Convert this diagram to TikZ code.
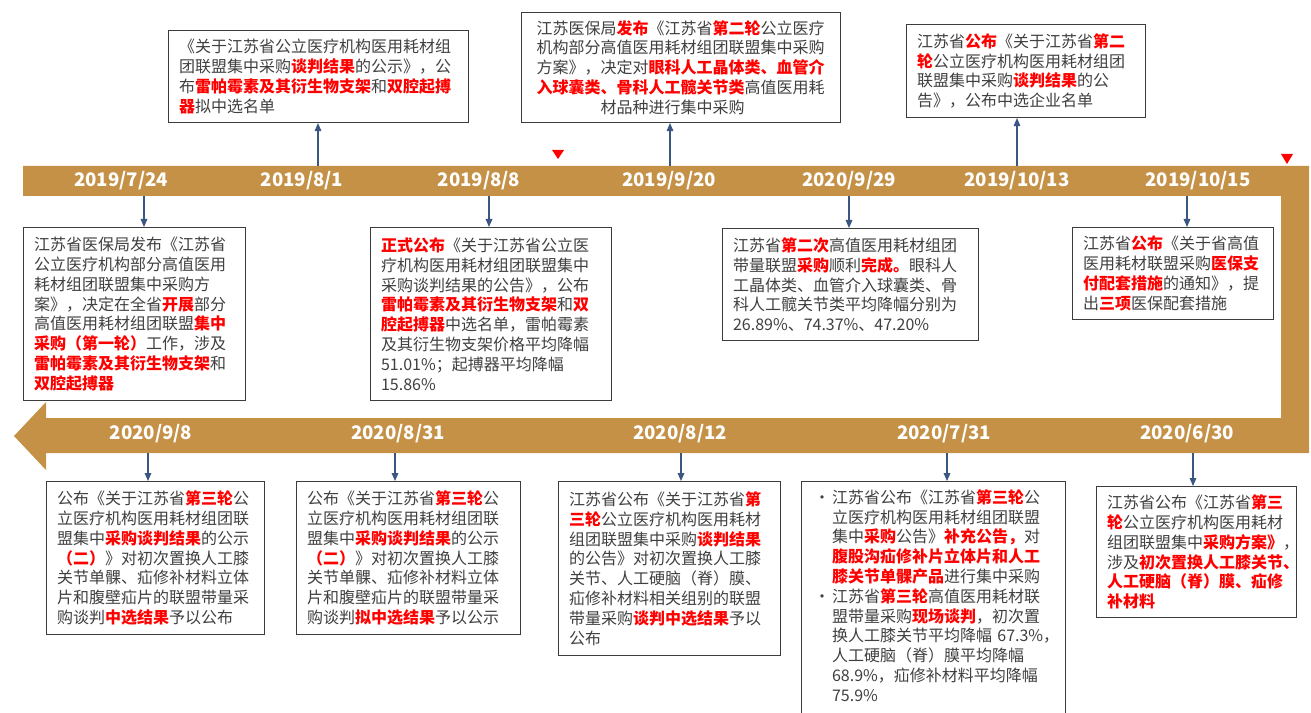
\documentclass[tikz,border=0pt]{standalone}
\usepackage{fontspec}
\setmainfont{Noto Sans CJK SC}
\usetikzlibrary{arrows.meta}
\definecolor{bandgold}{HTML}{C49146}
\definecolor{txtgray}{HTML}{404040}
\definecolor{boxgray}{HTML}{3C3C3C}
\definecolor{linknavy}{HTML}{3A5683}
\definecolor{keyred}{HTML}{FF0000}
\newcommand{\keyw}[1]{\textcolor{keyred}{\bfseries #1}}
\newcommand{\bul}{\makebox[15pt][l]{\hspace{1.5pt}•}}
\newcommand{\ind}{\hspace*{15pt}}
\begin{document}
\begin{tikzpicture}[x=0.75pt,y=-0.75pt,
    evbox/.style={draw=boxgray,line width=0.8pt,fill=white,text=txtgray,align=left,anchor=north west,
        inner xsep=7.9pt,inner ysep=0pt,font=\fontsize{12pt}{14.85pt}\selectfont},
    datelbl/.style={text=white,inner sep=0pt,font=\fontsize{14pt}{16pt}\selectfont\bfseries},
    link/.style={linknavy,line width=0.8pt,-{Triangle[length=6pt,width=5pt]}},
    redtri/.style={fill=keyred}]
            \useasboundingbox (0,0) rectangle (1311,713);
            \clip (0,0) rectangle (1311,713);
            % the band
            \fill[bandgold] (23,166) -- (1309,166) -- (1309,453) -- (46,453) -- (46,470) -- (14,436)
                -- (46,402) -- (46,418) -- (1281,418) -- (1281,196) -- (23,196) -- cycle;
            \fill[redtri] (552,150) -- (564,150) -- (558,159) -- cycle;
            \fill[redtri] (1281,154) -- (1293,154) -- (1287,164) -- cycle;
            % dates
            \node[datelbl] (d1) at (121,181) {2019/7/24};
            \node[datelbl] (d2) at (302,181) {2019/8/1};
            \node[datelbl] (d3) at (479,181) {2019/8/8};
            \node[datelbl] (d4) at (669,181) {2019/9/20};
            \node[datelbl] (d5) at (849,181) {2020/9/29};
            \node[datelbl] (d6) at (1017,181) {2019/10/13};
            \node[datelbl] (d7) at (1198,181) {2019/10/15};
            \node[datelbl] (d8) at (151,434) {2020/9/8};
            \node[datelbl] (d9) at (398,434) {2020/8/31};
            \node[datelbl] (d10) at (680,434) {2020/8/12};
            \node[datelbl] (d11) at (944,434) {2020/7/31};
            \node[datelbl] (d12) at (1187,434) {2020/6/30};
            % boxes above the band
            \node[evbox,text width=209.25pt,minimum height=69pt] (boxA) at (168,30)
                {《关于江苏省公立医疗机构医用耗材组\\团联盟集中采购\keyw{谈判结果}的公示》，公\\布\keyw{雷帕霉素及其衍生物支架}和\keyw{双腔起搏}\\\keyw{器}拟中选名单};
            \node[evbox,text width=216.75pt,inner xsep=11.25pt,minimum height=82.5pt] (boxB) at (521,12)
                {江苏医保局\keyw{发布}《江苏省\keyw{第二轮}公立医疗\\机构部分高值医用耗材组团联盟集中采购\\方案》，决定对\keyw{眼科人工晶体类、血管介}\\\keyw{入球囊类、骨科人工髋关节类}高值医用耗\\\hspace*{48pt}材品种进行集中采购};
            \node[evbox,text width=163.5pt,minimum height=69.75pt] (boxC) at (906,24)
                {江苏省\keyw{公布}《关于江苏省\keyw{第二}\\\keyw{轮}公立医疗机构医用耗材组团\\联盟集中采购\keyw{谈判结果}的公\\告》，公布中选企业名单};
            % boxes under the band
            \node[evbox,text width=150.75pt,minimum height=129.75pt] (boxD) at (23,227)
                {江苏省医保局发布《江苏省\\公立医疗机构部分高值医用\\耗材组团联盟集中采购方\\案》，决定在全省\keyw{开展}部分\\高值医用耗材组团联盟\keyw{集中}\\\keyw{采购（第一轮）}工作，涉及\\\keyw{雷帕霉素及其衍生物支架}和\\\keyw{双腔起搏器}};
            \node[evbox,text width=165pt,minimum height=129.75pt] (boxE) at (370,227)
                {\keyw{正式公布}《关于江苏省公立医\\疗机构医用耗材组团联盟集中\\采购谈判结果的公告》，公布\\\keyw{雷帕霉素及其衍生物支架}和\keyw{双}\\\keyw{腔起搏器}中选名单，雷帕霉素\\及其衍生物支架价格平均降幅\\51.01\%；起搏器平均降幅\\15.86\%};
            \node[evbox,text width=176.25pt,minimum height=84pt] (boxF) at (722,228)
                {江苏省\keyw{第二次}高值医用耗材组团\\带量联盟\keyw{采购}顺利\keyw{完成。}眼科人\\工晶体类、血管介入球囊类、骨\\科人工髋关节类平均降幅分别为\\26.89\%、74.37\%、47.20\%};
            \node[evbox,text width=135pt,minimum height=69pt] (boxG) at (1072,227)
                {江苏省\keyw{公布}《关于省高值\\医用耗材联盟采购\keyw{医保支}\\\keyw{付配套措施}的通知》，提\\出\keyw{三项}医保配套措施};
            % boxes under the lower band
            \node[evbox,text width=147.75pt,minimum height=114.75pt] (boxH) at (46,481)
                {公布《关于江苏省\keyw{第三轮}公\\立医疗机构医用耗材组团联\\盟集中\keyw{采购谈判结果}的公示\\\keyw{（二）}》对初次置换人工膝\\关节单髁、疝修补材料立体\\片和腹壁疝片的联盟带量采\\购谈判\keyw{中选结果}予以公布};
            \node[evbox,text width=152.25pt,minimum height=114.75pt] (boxI) at (296,481)
                {公布《关于江苏省\keyw{第三轮}公\\立医疗机构医用耗材组团联\\盟集中\keyw{采购谈判结果}的公示\\\keyw{（二）}》对初次置换人工膝\\关节单髁、疝修补材料立体\\片和腹壁疝片的联盟带量采\\购谈判\keyw{拟中选结果}予以公示};
            \node[evbox,text width=150.75pt,minimum height=130.5pt] (boxJ) at (558,481)
                {江苏省公布《关于江苏省\keyw{第}\\\keyw{三轮}公立医疗机构医用耗材\\组团联盟集中采购\keyw{谈判结果}\\的公告》对初次置换人工膝\\关节、人工硬脑（脊）膜、\\疝修补材料相关组别的联盟\\带量采购\keyw{谈判中选结果}予以\\公布};
            \node[evbox,text width=182.25pt,inner ysep=6pt] (boxK) at (801,481)
                {\bul 江苏省公布《江苏省\keyw{第三轮}公\\\ind 立医疗机构医用耗材组团联盟\\\ind 集中\keyw{采购}公告》\keyw{补充公告，}对\\\ind\keyw{腹股沟疝修补片立体片和人工}\\\ind\keyw{膝关节单髁产品}进行集中采购\\\bul 江苏省\keyw{第三轮}高值医用耗材联\\\ind 盟带量采购\keyw{现场谈判}，初次置\\\ind 换人工膝关节平均降幅~67.3\%，\\\ind 人工硬脑（脊）膜平均降幅\\\ind 68.9\%，疝修补材料平均降幅\\\ind 75.9\%\\[12pt]\mbox{}};
            \node[evbox,text width=134.25pt,minimum height=98.25pt] (boxL) at (1096,486)
                {江苏省公布《江苏省\keyw{第三}\\\keyw{轮}公立医疗机构医用耗材\\组团联盟集中\keyw{采购方案》}，\\涉及\keyw{初次置换人工膝关节、}\\\keyw{人工硬脑（脊）膜、疝修}\\\keyw{补材料}};
            % connectors
            \coordinate (pA) at (318,166);
            \coordinate (pB) at (670,166);
            \coordinate (pC) at (1017,166);
            \coordinate (pD) at (144,196);
            \coordinate (pE) at (489,196);
            \coordinate (pF) at (849,196);
            \coordinate (pG) at (1187,196);
            \coordinate (pH) at (148,453);
            \coordinate (pI) at (395,453);
            \coordinate (pJ) at (681,453);
            \coordinate (pK) at (947,453);
            \coordinate (pL) at (1193,453);
            \draw[link] (pA) -- (pA |- boxA.south);
            \draw[link] (pB) -- (pB |- boxB.south);
            \draw[link] (pC) -- (pC |- boxC.south);
            \draw[link] (pD) -- (pD |- boxD.north);
            \draw[link] (pE) -- (pE |- boxE.north);
            \draw[link] (pF) -- (pF |- boxF.north);
            \draw[link] (pG) -- (pG |- boxG.north);
            \draw[link] (pH) -- (pH |- boxH.north);
            \draw[link] (pI) -- (pI |- boxI.north);
            \draw[link] (pJ) -- (pJ |- boxJ.north);
            \draw[link] (pK) -- (pK |- boxK.north);
            \draw[link] (pL) -- (pL |- boxL.north);
\end{tikzpicture}
\end{document}
